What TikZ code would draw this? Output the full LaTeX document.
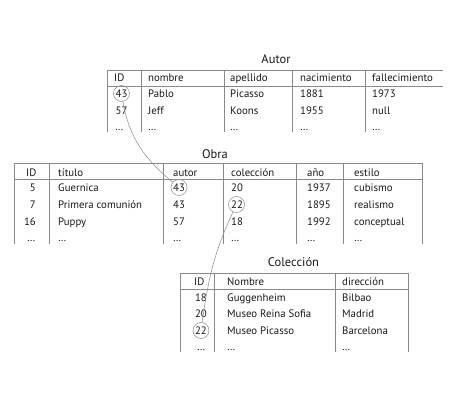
\documentclass[tikz,border=0pt]{standalone}
\usepackage{fontspec}
\setmainfont{PT Sans}
\definecolor{linegray}{HTML}{8A8A8A}
\definecolor{txtcol}{HTML}{1A1718}
\begin{document}
\begin{tikzpicture}[x=1pt,y=-1pt,
  grid/.style={draw=linegray, line width=0.6pt},
  txt/.style={anchor=base west, inner sep=0pt, text=txtcol, font=\fontsize{10.8}{12}\selectfont},
  numr/.style={anchor=base east, inner sep=0pt, text=txtcol, font=\fontsize{10.8}{12}\selectfont},
  ttl/.style={inner sep=0pt, text=txtcol, font=\fontsize{12.5}{14}\selectfont},
  hl/.style={circle, draw=linegray, line width=0.5pt, minimum size=16pt, inner sep=0pt},
  link/.style={draw=linegray, line width=0.5pt}]
\useasboundingbox (0,0) rectangle (459,418);

% ---------- Autor ----------
\node[ttl] (tA) at (276,59) {Autor};
\draw[grid] (107,70) -- (443,70);
\draw[grid] (107,86) -- (443,86);
\foreach \x in {107,141,224,292,365} \draw[grid] (\x,70) -- (\x,132);
\node[txt] (aH1) at (114,81) {ID};
\node[txt] (aH2) at (148,81) {nombre};
\node[txt] (aH3) at (230,81) {apellido};
\node[txt] (aH4) at (300,81) {nacimiento};
\node[txt] (aH5) at (372,81) {fallecimiento};
\node[txt] (a11) at (115.5,97.5) {43};
\node[txt] (a12) at (148,97.5) {Pablo};
\node[txt] (a13) at (230,97.5) {Picasso};
\node[txt] (a14) at (300,97.5) {1881};
\node[txt] (a15) at (372,97.5) {1973};
\node[txt] (a21) at (115.5,114) {57};
\node[txt] (a22) at (148,114) {Jeff};
\node[txt] (a23) at (230,114) {Koons};
\node[txt] (a24) at (300,114) {1955};
\node[txt] (a25) at (372,114) {null};
\node[txt] (a31) at (115,130) {…};
\node[txt] (a32) at (148,130) {…};
\node[txt] (a33) at (230,130) {…};
\node[txt] (a34) at (300,130) {…};
\node[txt] (a35) at (372,130) {…};

% ---------- Obra ----------
\node[ttl] (tO) at (215,154) {Obra};
\draw[grid] (14,163) -- (422,163);
\draw[grid] (14,179) -- (422,179);
\foreach \x in {14,49,163,223,296,343,422} \draw[grid] (\x,163) -- (\x,244);
\node[txt] (oH1) at (26,176) {ID};
\node[txt] (oH2) at (58,176) {título};
\node[txt] (oH3) at (173,176) {autor};
\node[txt] (oH4) at (231,176) {colección};
\node[txt] (oH5) at (307,176) {año};
\node[txt] (oH6) at (354,176) {estilo};
\node[numr] (o11) at (36,191.5) {5};
\node[txt] (o12) at (58,191.5) {Guernica};
\node[txt] (o13) at (173,191.5) {43};
\node[txt] (o14) at (231,191.5) {20};
\node[txt] (o15) at (307,191.5) {1937};
\node[txt] (o16) at (354,191.5) {cubismo};
\node[numr] (o21) at (36,208.5) {7};
\node[txt] (o22) at (58,208.5) {Primera comunión};
\node[txt] (o23) at (173,208.5) {43};
\node[txt] (o24) at (231,208.5) {22};
\node[txt] (o25) at (307,208.5) {1895};
\node[txt] (o26) at (354,208.5) {realismo};
\node[numr] (o31) at (36,225) {16};
\node[txt] (o32) at (58,225) {Puppy};
\node[txt] (o33) at (173,225) {57};
\node[txt] (o34) at (231,225) {18};
\node[txt] (o35) at (307,225) {1992};
\node[txt] (o36) at (354,225) {conceptual};
\node[txt] (o41) at (27,241) {…};
\node[txt] (o42) at (58,241) {…};
\node[txt] (o43) at (173,241) {…};
\node[txt] (o44) at (231,241) {…};
\node[txt] (o45) at (307,241) {…};
\node[txt] (o46) at (354,241) {…};

% ---------- Colección ----------
\node[ttl] (tC) at (293.5,262) {Colección};
\draw[grid] (180,273) -- (408,273);
\draw[grid] (180,289) -- (408,289);
\foreach \x in {180,214,335,408} \draw[grid] (\x,273) -- (\x,352);
\node[txt] (cH1) at (194,285.5) {ID};
\node[txt] (cH2) at (227,285.5) {Nombre};
\node[txt] (cH3) at (342,285.5) {dirección};
\node[numr] (c11) at (207,301) {18};
\node[txt] (c12) at (227,301) {Guggenheim};
\node[txt] (c13) at (342,301) {Bilbao};
\node[numr] (c21) at (207,317.5) {20};
\node[txt] (c22) at (227,317.5) {Museo Reina Sofia};
\node[txt] (c23) at (342,317.5) {Madrid};
\node[numr] (c31) at (207,334.5) {22};
\node[txt] (c32) at (227,334.5) {Museo Picasso};
\node[txt] (c33) at (342,334.5) {Barcelona};
\node[txt] (c41) at (197,350) {…};
\node[txt] (c42) at (227,350) {…};
\node[txt] (c43) at (342,350) {…};

% ---------- highlights and links ----------
\node[hl] (ka43) at (121.5,93.5) {};
\node[hl] (ko43) at (179,187.5) {};
\node[hl] (ko22) at (236.5,204.5) {};
\node[hl] (kc22) at (201,330.5) {};
\draw[link] (ka43) to[out=-80,in=140] (ko43);
\draw[link] (ko22) to[out=-115,in=82] (kc22);
\end{tikzpicture}
\end{document}
